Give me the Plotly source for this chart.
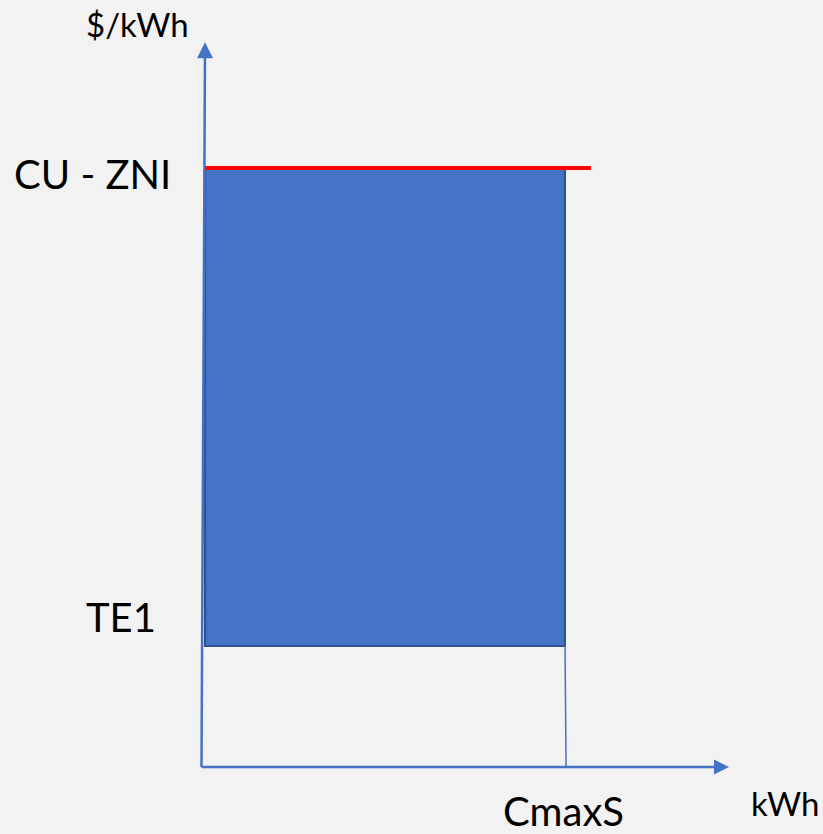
import plotly.graph_objects as go

# Conceptual data (units: quantity in CmaxS units, price in TE1 units)
quantity_labels = ["CmaxS"]
cmax_s = [1.0]            # capacity (kWh)
price_labels = ["TE1", "CU - ZNI"]
te1 = [1.0]               # lower price level ($/kWh)
cu_zni = [4.95]           # upper price level ($/kWh)
axis_titles = ["$/kWh", "kWh"]

W, H = 823, 834
X0PX, XSCALE = 205, 360.0   # pixel of x=0, pixels per unit
Y0PX, YSCALE = 767, 121.0   # pixel of y=0, pixels per unit

BLUE = "#4472C4"
DARK = "#2F528F"
BG = "#F2F2F2"

x_range = [-X0PX / XSCALE, (W - X0PX) / XSCALE]
y_range = [(Y0PX - H) / YSCALE, Y0PX / YSCALE]

y_top = 5.99
x_right = 1.4556
red_end = 1.072

fig = go.Figure()

# shaded rectangle as a bar with base
fig.add_trace(go.Bar(
    x=[cmax_s[0] / 2], y=[cu_zni[0] - te1[0]], base=[te1[0]], width=[cmax_s[0]],
    marker=dict(color=BLUE, line=dict(color=DARK, width=2)),
    hoverinfo="skip", showlegend=False))

# thin drop line from CmaxS
fig.add_trace(go.Scatter(
    x=[cmax_s[0], cmax_s[0] + 0.003], y=[te1[0], 0], mode="lines",
    line=dict(color=BLUE, width=1.5), hoverinfo="skip", showlegend=False))

# red CU-ZNI line
fig.add_trace(go.Scatter(
    x=[0, red_end], y=[cu_zni[0], cu_zni[0]], mode="lines",
    line=dict(color="#FF0000", width=4), hoverinfo="skip", showlegend=False))

# y axis
fig.add_trace(go.Scatter(
    x=[-0.0097, 0], y=[0, y_top - 0.05], mode="lines",
    line=dict(color=BLUE, width=2.5), hoverinfo="skip", showlegend=False))
fig.add_trace(go.Scatter(
    x=[0], y=[y_top], mode="markers",
    marker=dict(symbol="arrow-up", size=16, color=BLUE, line=dict(width=0)),
    hoverinfo="skip", showlegend=False))

# x axis
fig.add_trace(go.Scatter(
    x=[-0.0097, x_right - 0.02], y=[0, 0], mode="lines",
    line=dict(color=BLUE, width=2.5), hoverinfo="skip", showlegend=False))
fig.add_trace(go.Scatter(
    x=[x_right], y=[0], mode="markers",
    marker=dict(symbol="arrow-right", size=15, color=BLUE, line=dict(width=0)),
    hoverinfo="skip", showlegend=False))

FONT = "Lato"
big = dict(family=FONT, size=40, color="black")
small = dict(family=FONT, size=33, color="black")

def px(x):
    return x / W

def py(y):
    return 1 - y / H

anns = [
    dict(text=axis_titles[0], x=px(84), y=py(24), font=small),
    dict(text=price_labels[1], x=px(12), y=py(174), font=big),
    dict(text=price_labels[0], x=px(84), y=py(617), font=big),
    dict(text=quantity_labels[0], x=px(501), y=py(811), font=big),
    dict(text=axis_titles[1], x=px(749), y=py(803), font=small),
]
for a in anns:
    fig.add_annotation(xref="paper", yref="paper", xanchor="left", yanchor="middle",
                       showarrow=False, **a)

fig.update_layout(
    width=W, height=H, margin=dict(l=0, r=0, t=0, b=0),
    paper_bgcolor=BG, plot_bgcolor=BG,
    xaxis=dict(range=x_range, visible=False, fixedrange=True),
    yaxis=dict(range=y_range, visible=False, fixedrange=True),
    bargap=0,
)

fig.write_html("out.html", config={"displayModeBar": False},
               post_script="document.body.style.margin='0';document.body.style.overflow='hidden';")
